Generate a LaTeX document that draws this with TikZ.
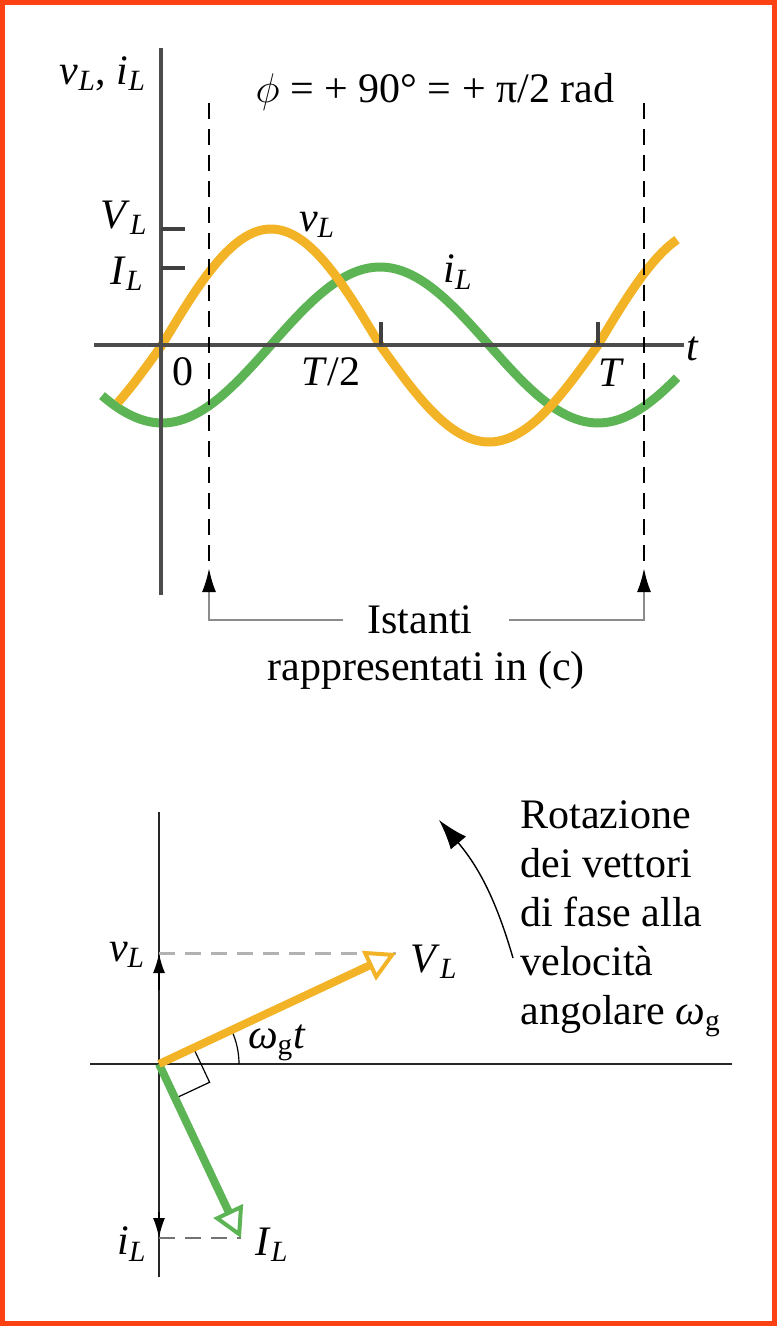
\documentclass[tikz,border=0pt]{standalone}
\usepackage{fontspec}
\setmainfont{Liberation Serif}
\usetikzlibrary{arrows.meta,positioning,calc}
\definecolor{voltorange}{RGB}{242,179,38}
\definecolor{curgreen}{RGB}{92,180,84}
\definecolor{framered}{RGB}{252,66,18}
\newcommand{\qsub}[2]{\textit{#1}\textsubscript{\textit{#2}}}
\tikzset{
  lbl/.style={inner sep=0pt,font=\fontsize{21}{24.5}\selectfont},
  axis/.style={draw=black!70,line width=1.6pt},
  paxis/.style={draw=black!85,line width=1.2pt},
  tickmark/.style={draw=black!75,line width=1.6pt},
  guide/.style={draw=black,line width=0.9pt,dash pattern=on 8pt off 5pt},
  wave/.style={line width=4.5pt},
  phasor/.style={line width=4pt,-{Triangle[fill=white,length=15pt,width=16pt,line width=2pt]}},
  proj/.style={draw=black!30,line width=1.5pt,dash pattern=on 8pt off 5pt},
  bracket/.style={draw=black!45,line width=1.2pt,-{Latex[black,length=12pt,width=7pt]}},
  arrow/.style={-{Latex[length=10pt,width=6pt]},line width=1pt}
}
\begin{document}
\begin{tikzpicture}[x=0.5pt,y=-0.5pt]
\useasboundingbox (0,0) rectangle (777,1326);
\draw[framered,line width=2.5pt] (2.5,2.5) rectangle (774.5,1323.5);
% waveforms
\draw[wave,curgreen] plot[domain=102:677,samples=120]
  (\x,{345+78*cos((\x-162)/436*360)});
\draw[wave,voltorange] plot[domain=118:677,samples=120]
  (\x,{345-(sin((\x-162)/436*360)>0?116:97)*sin((\x-162)/436*360)});
% axes
\coordinate (ytop) at (161,48);
\coordinate (ybot) at (161,595);
\coordinate (tleft) at (94,345);
\coordinate (tright) at (684,345);
\draw[axis] (ybot) -- (ytop);
\draw[axis] (tleft) -- (tright);
\draw[tickmark] (161,229) -- ++(24,0);
\draw[tickmark] (161,268) -- ++(24,0);
\draw[tickmark] (381,345) -- ++(0,-23);
\draw[tickmark] (598,345) -- ++(0,-23);
\coordinate (g0top) at (209,103);
\coordinate (g0bot) at (209,562);
\coordinate (gTtop) at (644,103);
\coordinate (gTbot) at (644,562);
\draw[guide] (g0top) -- (g0bot);
\draw[guide] (gTtop) -- (gTbot);
\node[lbl] (ylbl) at (103,74) {\qsub{v}{L}, \qsub{i}{L}};
\node[lbl] (phase) at (435,92) {$\phi$ = + 90° = + π/2 rad};
\node[lbl] (Vpk) at (124,218) {\qsub{V}{L}};
\node[lbl] (Ipk) at (127,274) {\qsub{I}{L}};
\node[lbl] (vcurve) at (317,225) {\qsub{v}{L}};
\node[lbl] (icurve) at (458,272) {\qsub{i}{L}};
\node[lbl] (zero) at (183,372) {0};
\node[lbl] (half) at (331,372) {\textit{T}/2};
\node[lbl] (full) at (611,373) {\textit{T}};
\node[lbl] (tlbl) at (693,349) {\textit{t}};
% instants
\node[lbl] (inst) at (420,620) {Istanti};
\node[lbl,below=8pt of inst,xshift=3pt] (rappr) {rappresentati in (c)};
\coordinate (mark0) at (209,568);
\coordinate (markT) at (644,568);
\draw[bracket] ([xshift=-12pt]inst.west) -| (mark0);
\draw[bracket] ([xshift=18pt]inst.east) -| (markT);
% phasors
\coordinate (O) at (159,1064);
\coordinate (VL) at (396,953);
\coordinate (IL) at (241,1238);
\coordinate (vproj) at (159,953);
\coordinate (iproj) at (159,1238);
\coordinate (ptop) at (159,812);
\coordinate (pbot) at (159,1277);
\coordinate (pleft) at (90,1064);
\coordinate (pright) at (732,1064);
\draw[paxis] (pbot) -- (ptop);
\draw[paxis] (pleft) -- (pright);
\draw[proj] (vproj) -- (VL);
\draw[proj,draw=black!55,line width=0.8pt] (iproj) -- (IL);
\draw[arrow] (159,990) -- (vproj);
\draw[arrow] (159,1212) -- (iproj);
\draw[line width=0.6pt] (239,1064) arc[start angle=0,end angle=-25,radius=80];
\coordinate (ra1) at ($(O)!19pt!(VL)$);
\coordinate (ra2) at ($(O)!19pt!(IL)$);
\draw[line width=0.6pt] (ra1) -- ($(ra1)+(ra2)-(O)$) -- (ra2);
\draw[phasor,curgreen] (O) -- (IL);
\draw[phasor,voltorange] (O) -- (VL);
\node[lbl] (vaxlbl) at (127,955) {\qsub{v}{L}};
\node[lbl] (VLlbl) at (434,962) {\qsub{V}{L}};
\node[lbl] (wlbl) at (277,1043) {\textit{ω}\textsubscript{g}\textit{t}};
\node[lbl] (iaxlbl) at (132,1244) {\qsub{i}{L}};
\node[lbl] (ILlbl) at (272,1245) {\qsub{I}{L}};
\node[lbl,align=left,anchor=north west] (rot) at (520,800)
  {Rotazione\\dei vettori\\di fase alla\\velocità\\angolare \textit{ω}\textsubscript{g}};
\coordinate (rotfrom) at (513,958);
\coordinate (rotto) at (439,820);
\draw[-{Latex[length=15pt,width=10pt]},line width=0.7pt] (rotfrom) to[bend right=12] (rotto);
\end{tikzpicture}
\end{document}
